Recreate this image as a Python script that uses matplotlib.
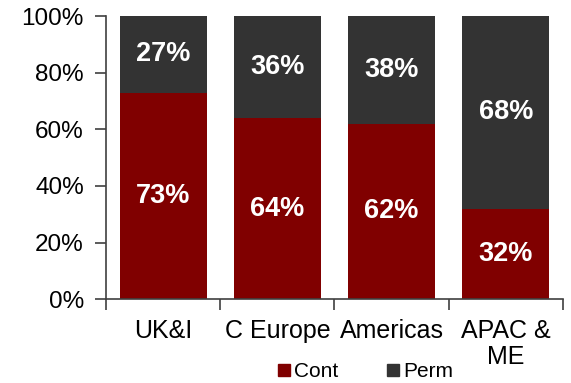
import matplotlib.pyplot as plt
import numpy as np
from matplotlib.lines import Line2D

plt.rcParams['font.family'] = ['Liberation Sans', 'DejaVu Sans']

# share of placements by region (%)
regions = ['UK&I', 'C Europe', 'Americas', 'APAC &\nME']
cont = [73, 64, 62, 32]
perm = [27, 36, 38, 68]

col_cont = '#800000'
col_perm = '#333333'

fig = plt.figure(figsize=(5.71, 3.83), dpi=100)
ax = fig.add_axes([0.1856, 0.219, 0.8004, 0.739])

x = np.arange(len(regions))
w = 0.76
ax.bar(x, cont, width=w, color=col_cont)
ax.bar(x, perm, width=w, bottom=cont, color=col_perm)

# value labels inside each segment
for i in range(len(regions)):
    ax.text(x[i], cont[i] / 2, f'{cont[i]}%', ha='center', va='center',
            color='white', fontsize=19.5, fontweight='bold')
    ax.text(x[i], cont[i] + perm[i] / 2, f'{perm[i]}%', ha='center', va='center',
            color='white', fontsize=19.5, fontweight='bold')

ax.set_xlim(-0.5, len(regions) - 0.5)
ax.set_ylim(0, 100)
ax.set_yticks(np.arange(0, 101, 20))
ax.set_yticklabels([f'{v}%' for v in range(0, 101, 20)], fontsize=17.5)

# category ticks sit between bars, labels centred under bars
ax.set_xticks(np.arange(-0.5, len(regions), 1.0))
ax.set_xticklabels([])
ax.set_xticks(x, minor=True)
ax.set_xticklabels(regions, minor=True, fontsize=18, linespacing=1.15)
ax.tick_params(axis='x', which='minor', length=0, pad=14)
ax.tick_params(axis='x', which='major', length=8, width=1.2, color='#404040')
ax.tick_params(axis='y', length=8, width=1.2, color='#404040', pad=8)

for s in ['top', 'right']:
    ax.spines[s].set_visible(False)
for s in ['left', 'bottom']:
    ax.spines[s].set_color('#404040')
    ax.spines[s].set_linewidth(1.2)

handles = [Line2D([], [], marker='s', linestyle='none', markersize=9,
                  markerfacecolor=col_cont, markeredgecolor=col_cont, label='Cont'),
           Line2D([], [], marker='s', linestyle='none', markersize=9,
                  markerfacecolor=col_perm, markeredgecolor=col_perm, label='Perm')]
fig.legend(handles=handles, loc='lower center', bbox_to_anchor=(0.64, -0.045),
           ncol=2, frameon=False, fontsize=15, handlelength=0.6,
           handletextpad=0.2, columnspacing=2.3)

fig.savefig('out.png', dpi=100)
